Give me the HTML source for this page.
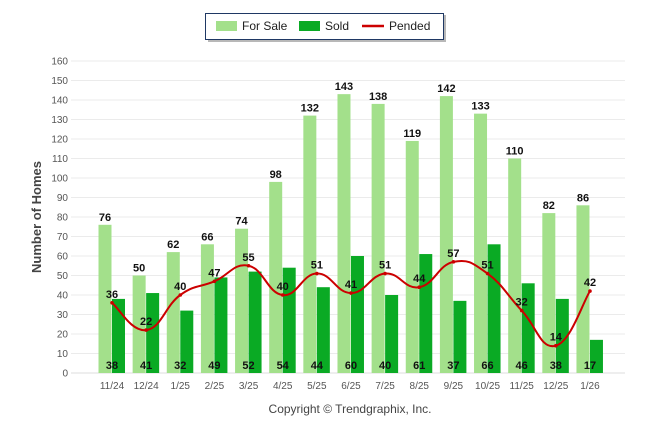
<!DOCTYPE html>
<html><head><meta charset="utf-8"><style>
body{margin:0;background:#fff;width:646px;height:434px;overflow:hidden;font-family:"Liberation Sans",sans-serif}
</style></head><body>
<svg id="c" width="646" height="434" xmlns="http://www.w3.org/2000/svg">
<rect x="208" y="15" width="238" height="27" fill="#888" opacity="0.6"/>
<g>
<rect x="205.5" y="13.5" width="238" height="26" fill="#fff" stroke="#1f3864" stroke-width="1"/>
<rect x="216" y="21" width="21" height="10" fill="#a3e08b"/>
<text x="242" y="30" font-size="12" fill="#222">For Sale</text>
<rect x="299" y="21" width="21" height="10" fill="#0aaa24"/>
<text x="325" y="30" font-size="12" fill="#222">Sold</text>
<line x1="362" y1="26" x2="384" y2="26" stroke="#cc0000" stroke-width="2.5"/>
<text x="389" y="30" font-size="12" fill="#222">Pended</text>
</g>
<text transform="translate(41,217) rotate(-90)" text-anchor="middle" font-size="13" font-weight="bold" fill="#444">Number of Homes</text>
<text x="350" y="413" text-anchor="middle" font-size="12" fill="#444">Copyright © Trendgraphix, Inc.</text>
<g id="grid"></g><g id="bars"></g><g id="line"></g><g id="labels"></g>
</svg>
<script>
const categories=["11/24","12/24","1/25","2/25","3/25","4/25","5/25","6/25","7/25","8/25","9/25","10/25","11/25","12/25","1/26"];
const forSale=[76,50,62,66,74,98,132,143,138,119,142,133,110,82,86];
const sold=[38,41,32,49,52,54,44,60,40,61,37,66,46,38,17];
const pended=[36,22,40,47,55,40,51,41,51,44,57,51,32,14,42];
const yTicks=[0,10,20,30,40,50,60,70,80,90,100,110,120,130,140,150,160];
const NS="http://www.w3.org/2000/svg";
const y=v=>373-v*1.95;
const x=i=>112+i*34.14;
function mk(tag,attrs,parent,txt){const e=document.createElementNS(NS,tag);for(const k in attrs)e.setAttribute(k,attrs[k]);if(txt!==undefined)e.textContent=txt;document.getElementById(parent).appendChild(e);return e;}
yTicks.forEach(t=>{
 const l=mk('line',{x1:71,x2:625,y1:y(t),y2:y(t),stroke:t===0?'#ddd':'#ebebeb','stroke-width':1},'grid');
 
 
 const tx=mk('text',{x:68,y:y(t)+3.5,'text-anchor':'end','font-size':10,fill:'#555'},'grid',t);
 
 
});
categories.forEach((c,i)=>{
 const tx=mk('text',{x:x(i),y:389,'text-anchor':'middle','font-size':10,fill:'#555'},'grid',c);
 
 
 const b1=mk('rect',{x:x(i)-13.5,y:y(forSale[i]),width:13,height:forSale[i]*1.95,fill:'#a3e08b'},'bars');
 
 
 const b2=mk('rect',{x:x(i),y:y(sold[i]),width:13,height:sold[i]*1.95,fill:'#0aaa24'},'bars');
 
 
 const l1=mk('text',{x:x(i)-7,y:y(forSale[i])-4,'text-anchor':'middle','font-size':11,'font-weight':'bold',fill:'#111'},'labels',forSale[i]);
 
 
 const l2=mk('text',{x:x(i),y:369,'text-anchor':'middle','font-size':11,'font-weight':'bold',fill:'#111'},'labels',sold[i]);
 
 
 const l3=mk('text',{x:x(i),y:y(pended[i])-5,'text-anchor':'middle','font-size':11,'font-weight':'bold',fill:'#111'},'labels',pended[i]);
 
 
});
const pts=pended.map((v,i)=>[x(i),y(v)]);
let d='M'+pts[0][0]+','+pts[0][1];
for(let i=0;i<pts.length-1;i++){
 const p0=pts[Math.max(0,i-1)],p1=pts[i],p2=pts[i+1],p3=pts[Math.min(pts.length-1,i+2)];
 const t=0.22;
 d+=` C${p1[0]+(p2[0]-p0[0])*t},${p1[1]+(p2[1]-p0[1])*t} ${p2[0]-(p3[0]-p1[0])*t},${p2[1]-(p3[1]-p1[1])*t} ${p2[0]},${p2[1]}`;
}
const path=mk('path',{d:d,fill:'none',stroke:'#cc0000','stroke-width':2},'line');


pts.forEach((p,i)=>{const c=mk('circle',{cx:p[0],cy:p[1],r:1.8,fill:'#cc0000'},'line');
 
 });
</script>
</body></html>
